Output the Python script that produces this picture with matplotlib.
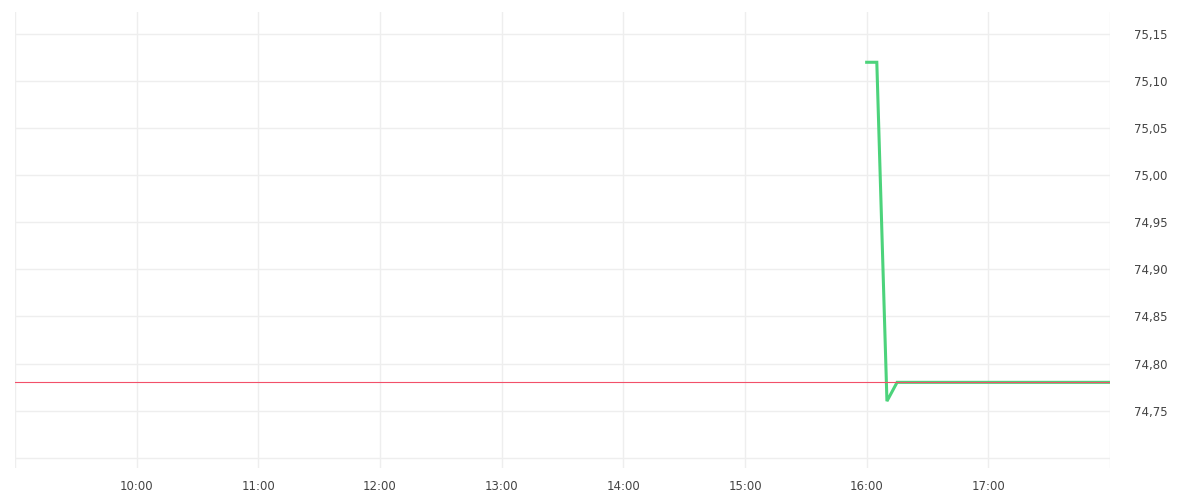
import matplotlib
matplotlib.use('Agg')
import matplotlib.pyplot as plt
from datetime import datetime

# price series (5 min steps)
times = ['16:00', '16:05', '16:10', '16:15', '18:00']
prices = [75.12, 75.12, 74.76, 74.78, 74.78]
ref_price = 74.78   # previous close line

x_start, x_end = '09:00', '18:00'
hour_ticks = ['09:00', '10:00', '11:00', '12:00', '13:00', '14:00', '15:00', '16:00', '17:00', '18:00']
y_ticks = [74.70, 74.75, 74.80, 74.85, 74.90, 74.95, 75.00, 75.05, 75.10, 75.15]

to_dt = lambda s: datetime.strptime('2024-01-02 ' + s, '%Y-%m-%d %H:%M')

fig = plt.figure(figsize=(12, 5), dpi=100)
ax = fig.add_axes([15/1200, 1 - 468/500, (1110 - 15)/1200, (468 - 12)/500])

ax.plot([to_dt(t) for t in times], prices, color='#4cd37b', lw=2.2, solid_joinstyle='miter', zorder=3)
ax.axhline(ref_price, color='#f2506a', lw=0.8, zorder=4)

ax.set_xlim(to_dt(x_start), to_dt(x_end))
ax.set_ylim(74.689, 75.1734)

ax.set_xticks([to_dt(t) for t in hour_ticks])
ax.set_xticklabels(['' if t in ('09:00', '18:00') else t for t in hour_ticks])
ax.set_yticks(y_ticks)
ax.set_yticklabels(['' if v == 74.70 else ('%.2f' % v).replace('.', ',') for v in y_ticks])

ax.yaxis.tick_right()
ax.tick_params(axis='y', length=0, pad=17, labelsize=8.5, labelcolor='#444444')
ax.tick_params(axis='x', length=0, pad=9, labelsize=8.5, labelcolor='#444444')
ax.grid(True, color='#eeeeee', lw=1)
ax.set_axisbelow(True)
for s in ax.spines.values():
    s.set_visible(False)

fig.savefig('out.png', dpi=100)
